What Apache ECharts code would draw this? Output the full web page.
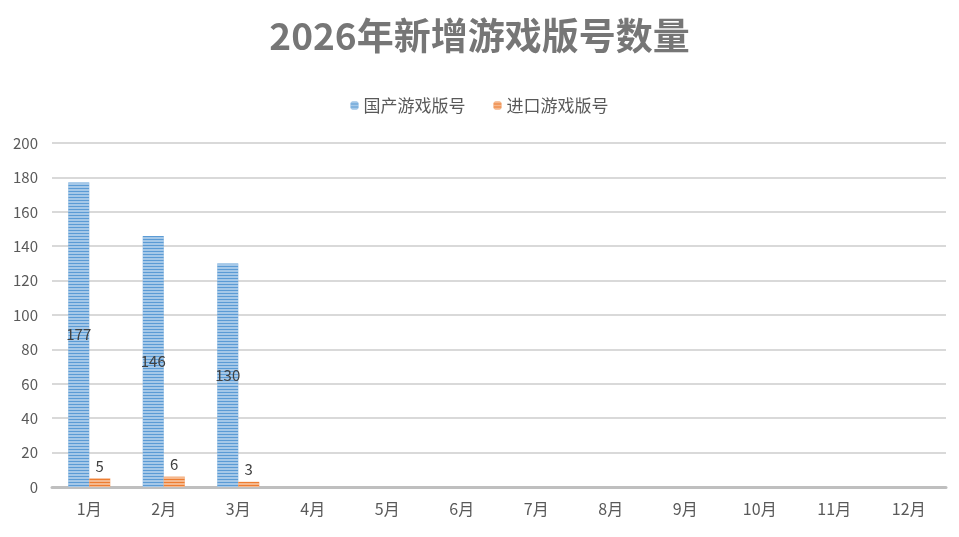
<!DOCTYPE html><html><head><meta charset="utf-8"><script src="https://cdn.jsdelivr.net/npm/echarts@6/dist/echarts.min.js"></script></head><body style="margin:0"><div id="c" style="width:959px;height:537px"></div><script>
const categories=['1月','2月','3月','4月','5月','6月','7月','8月','9月','10月','11月','12月'];
const domestic=[177,146,130,null,null,null,null,null,null,null,null,null];
const imported=[5,6,3,null,null,null,null,null,null,null,null,null];
const yTicks={min:0,max:200,interval:20};
const font='"Noto Sans CJK SC", sans-serif';
const decal={symbol:'rect',dashArrayX:[1,0],dashArrayY:[2,1],rotation:0,color:'rgba(255,255,255,0.45)'};
const ch=echarts.init(document.getElementById('c'));
ch.setOption({
 animation:false,
 aria:{enabled:false},
 title:{text:'2026年新增游戏版号数量',left:'center',top:12,textStyle:{fontFamily:font,fontSize:37,fontWeight:'bold',color:'#767676',letterSpacing:1}},
 legend:{top:92,itemWidth:8,itemHeight:8,itemGap:28,textStyle:{fontFamily:font,fontSize:17,color:'#595959'},data:['国产游戏版号','进口游戏版号']},
 grid:{left:52,right:13,top:143,bottom:50},
 xAxis:{type:'category',data:categories,axisTick:{show:false},axisLine:{lineStyle:{color:'#bfbfbf',width:3}},axisLabel:{fontFamily:font,fontSize:16,color:'#595959',margin:14}},
 yAxis:{type:'value',min:yTicks.min,max:yTicks.max,interval:yTicks.interval,axisLabel:{fontFamily:font,fontSize:15,color:'#595959',margin:14}},
 series:[
  {name:'国产游戏版号',type:'bar',data:domestic,barWidth:21,barGap:'0%',itemStyle:{color:'#5b9bd5',decal:decal},label:{show:true,position:'inside',fontFamily:font,fontSize:15,color:'#404040'}},
  {name:'进口游戏版号',type:'bar',data:imported,barWidth:21,itemStyle:{color:'#ed7d31',decal:decal},label:{show:true,position:'top',fontFamily:font,fontSize:15,color:'#404040'}}
 ]
});
ch.setOption({yAxis:{splitLine:{lineStyle:{color:'#d9d9d9',width:2}}}});
</script></body></html>
